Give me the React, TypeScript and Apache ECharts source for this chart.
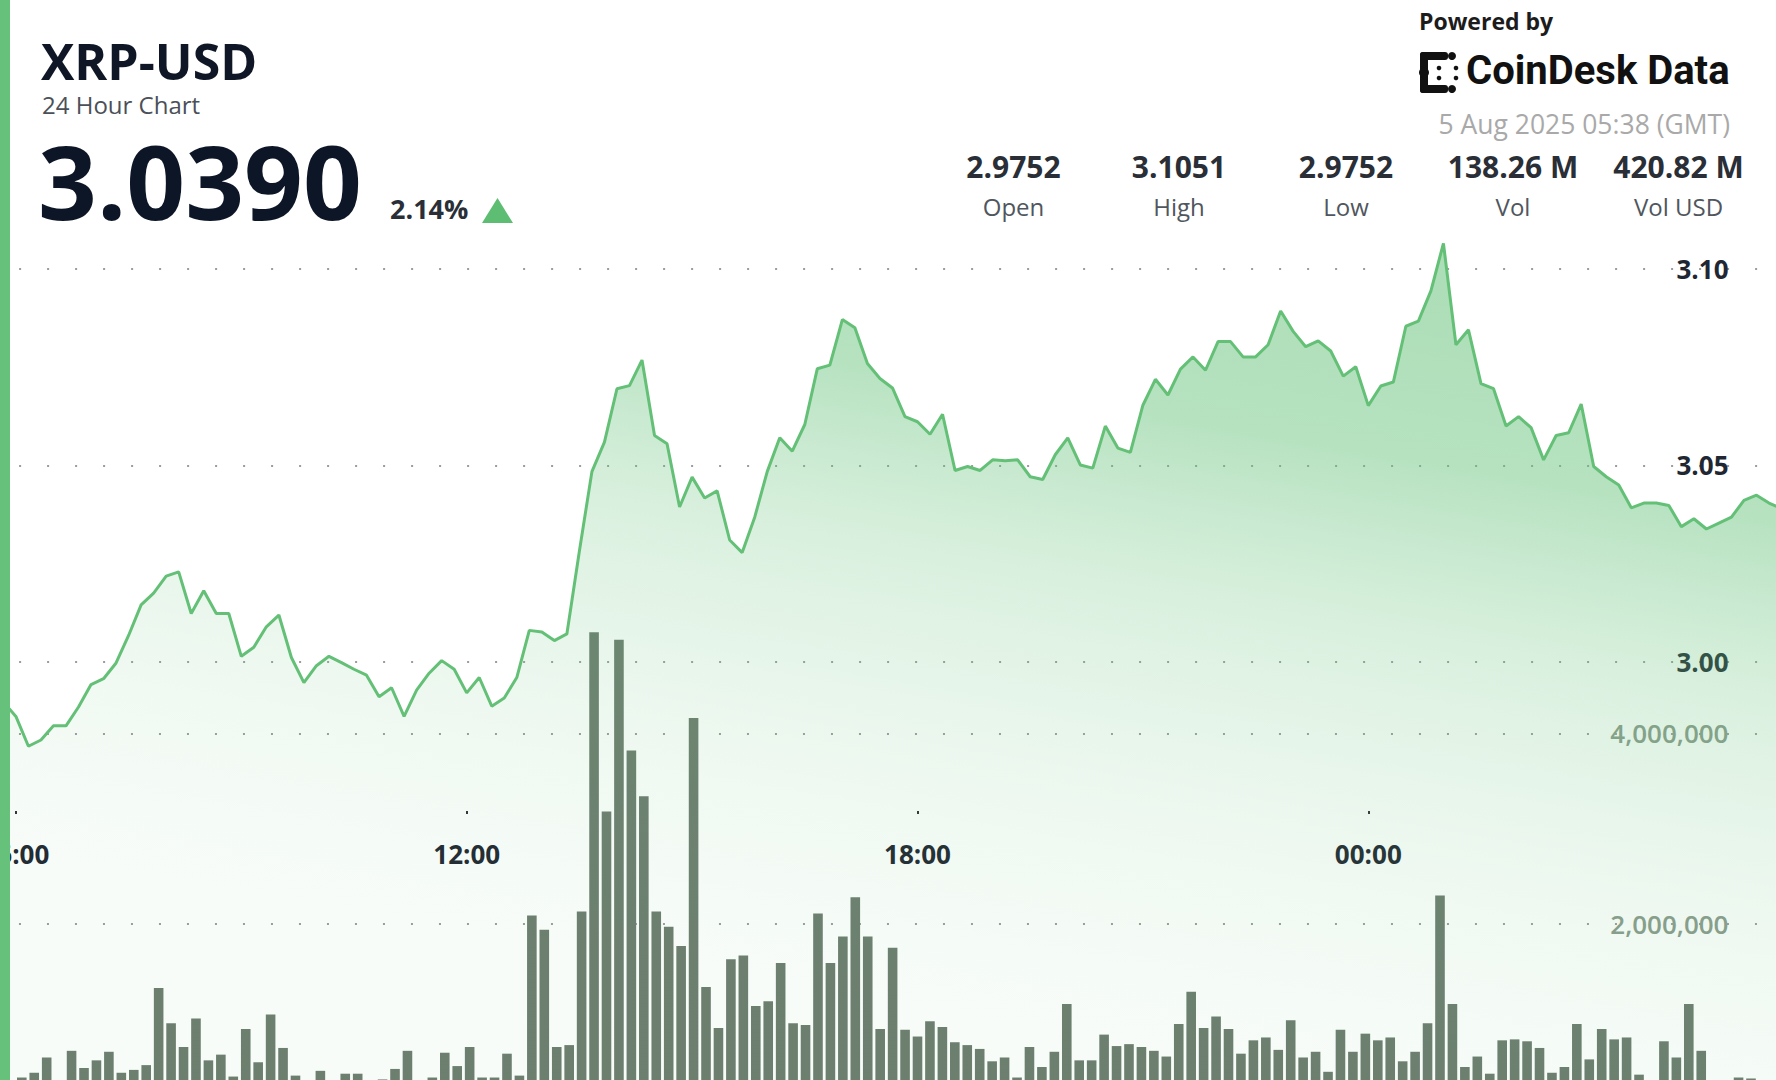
import React, { useEffect, useRef } from "react";
import * as echarts from "echarts";

// ---- data (10-minute samples, first sample at 05:50 on 4 Aug 2025, UTC) ----
const START_MINUTE = 350; // minutes after 00:00 of 4 Aug
const STEP_MINUTES = 10;

const prices = [
  2.9898, 2.9861, 2.9785, 2.9801, 2.9837, 2.9837, 2.9885, 2.9942, 2.9957, 2.9997,
  3.0067, 3.0145, 3.0175, 3.0218, 3.0229, 3.0123, 3.0181, 3.0123, 3.0123, 3.0014,
  3.0037, 3.0089, 3.0119, 3.0011, 2.9947, 2.999, 3.0014, 2.9998, 2.9981, 2.9966,
  2.9911, 2.9934, 2.9861, 2.9928, 2.9971, 3.0003, 2.9981, 2.9921, 2.996, 2.9887,
  2.9908, 2.996, 3.008, 3.0076, 3.0054, 3.0071, 3.0282, 3.0484, 3.0559, 3.0695,
  3.0703, 3.0768, 3.0576, 3.0555, 3.0394, 3.047, 3.0417, 3.0435, 3.031, 3.0278,
  3.0368, 3.0484, 3.057, 3.0536, 3.0604, 3.0746, 3.0755, 3.0871, 3.085, 3.0759,
  3.0721, 3.0697, 3.0624, 3.0611, 3.0579, 3.063, 3.0487, 3.0497, 3.0487, 3.0514,
  3.0512, 3.0514, 3.0471, 3.0464, 3.0527, 3.057, 3.0501, 3.0493, 3.06, 3.0544,
  3.0533, 3.0653, 3.0719, 3.0679, 3.0745, 3.0776, 3.0742, 3.0815, 3.0815, 3.0776,
  3.0776, 3.0807, 3.0893, 3.0841, 3.0802, 3.0817, 3.0791, 3.0727, 3.0751, 3.0652,
  3.0702, 3.0712, 3.0854, 3.0867, 3.0944, 3.1065, 3.0807, 3.0845, 3.0708, 3.0695,
  3.06, 3.0624, 3.0596, 3.0514, 3.0576, 3.0583, 3.0656, 3.0497, 3.0471, 3.045,
  3.0392, 3.0404, 3.0404, 3.0398, 3.0344, 3.0364, 3.0338, 3.0353, 3.0368, 3.0411,
  3.0424, 3.0404, 3.039,
];

// volume per 10-minute bar, millions of XRP
const volumesM = [
  0.35, 0.39, 0.44, 0.6, 0.35, 0.67, 0.49, 0.57, 0.66, 0.44,
  0.47, 0.52, 1.33, 0.96, 0.71, 1.01, 0.57, 0.63, 0.4, 0.9,
  0.55, 1.05, 0.7, 0.41, 0.35, 0.46, 0.3, 0.43, 0.43, 0.3,
  0.37, 0.48, 0.67, 0.3, 0.39, 0.65, 0.51, 0.71, 0.39, 0.39,
  0.64, 0.41, 2.09, 1.94, 0.71, 0.73, 2.13, 5.06, 3.18, 4.98,
  3.82, 3.34, 2.13, 1.97, 1.77, 4.16, 1.34, 0.91, 1.63, 1.67,
  1.14, 1.19, 1.59, 0.96, 0.94, 2.11, 1.59, 1.87, 2.28, 1.87,
  0.9, 1.75, 0.89, 0.82, 0.98, 0.92, 0.76, 0.73, 0.69, 0.56,
  0.6, 0.39, 0.71, 0.5, 0.66, 1.16, 0.57, 0.57, 0.84, 0.72,
  0.74, 0.71, 0.67, 0.61, 0.95, 1.29, 0.91, 1.03, 0.9, 0.64,
  0.78, 0.81, 0.68, 0.99, 0.6, 0.66, 0.45, 0.89, 0.66, 0.85,
  0.78, 0.81, 0.56, 0.66, 0.96, 2.3, 1.16, 0.5, 0.61, 0.43,
  0.78, 0.79, 0.77, 0.7, 0.44, 0.5, 0.95, 0.58, 0.9, 0.79,
  0.81, 0.42, 0.3, 0.77, 0.6, 1.16, 0.67, 0.3, 0.3, 0.39,
  0.38, 0.36, 0.33,
];

const priceTicks = { min: 3.0, max: 3.1, step: 0.05 };
const volumeTicks = { min: 0, max: 4000000, step: 2000000 };
const timeTicks = { min: 0, max: 1800, step: 360 }; // minutes, labels every 6 hours

const headerTexts = {
  symbol: "XRP-USD",
  subtitle: "24 Hour Chart",
  last: "3.0390",
  change: "2.14%",
  powered: "Powered by",
  brand: "CoinDesk Data",
  stamp: "5 Aug 2025 05:38 (GMT)",
};
const statValues = ["2.9752", "3.1051", "2.9752", "138.26 M", "420.82 M"];
const statLabels = ["Open", "High", "Low", "Vol", "Vol USD"];

const GREEN = "#63c076";
const FONT = '"Open Sans", "Noto Sans", sans-serif';

function fmtTime(m: number) {
  const mm = ((Math.round(m) % 1440) + 1440) % 1440;
  const h = Math.floor(mm / 60);
  const mi = mm % 60;
  return String(h).padStart(2, "0") + ":" + String(mi).padStart(2, "0");
}

export default function App() {
  const ref = useRef<HTMLDivElement>(null);

  useEffect(() => {
    if (!ref.current) return;
    const chart = echarts.init(ref.current, undefined, { renderer: "svg" });

    const times = prices.map((_, i) => START_MINUTE + i * STEP_MINUTES);
    const priceData = prices.map((p, i) => [times[i], p]);
    const volData = volumesM.map((v, i) => [times[i], v * 1e6]);

    const dotted = (offset: number) => ({
      color: "#9c9c9c",
      width: 2,
      type: [2, 26] as any,
      dashOffset: offset,
    });

    const statCenters = [1013.5, 1179, 1346, 1513, 1678.5];
    const graphics: any[] = [
      { type: "rect", z: 100, shape: { x: 0, y: 0, width: 10, height: 1080 }, style: { fill: "#66c27a" } },
      { type: "text", z: 100, style: { text: headerTexts.symbol, x: 41, y: 61, font: `bold 50px ${FONT}`, fill: "#0f1727", textAlign: "left", textVerticalAlign: "middle" } },
      { type: "text", z: 100, style: { text: headerTexts.subtitle, x: 42, y: 104, font: `24px ${FONT}`, fill: "#4b5058", textAlign: "left", textVerticalAlign: "middle" } },
      { type: "text", z: 100, style: { text: headerTexts.last, x: 38, y: 180, font: `bold 103px ${FONT}`, fill: "#0d1626", textAlign: "left", textVerticalAlign: "middle" } },
      { type: "text", z: 100, style: { text: headerTexts.change, x: 390, y: 208.5, font: `bold 27px ${FONT}`, fill: "#2a2f37", textAlign: "left", textVerticalAlign: "middle" } },
      { type: "polygon", z: 100, shape: { points: [[482, 223], [513, 223], [497.5, 198]] }, style: { fill: "#5dbd72" } },
      { type: "text", z: 100, style: { text: headerTexts.powered, x: 1419, y: 21, font: `bold 23px ${FONT}`, fill: "#1c1c1c", textAlign: "left", textVerticalAlign: "middle" } },
      // logo mark
      { type: "rect", z: 100, shape: { x: 1420, y: 52, width: 8, height: 41, r: 3 }, style: { fill: "#111" } },
      { type: "rect", z: 100, shape: { x: 1420, y: 52, width: 28, height: 8, r: 3 }, style: { fill: "#111" } },
      { type: "rect", z: 100, shape: { x: 1420, y: 85, width: 28, height: 8, r: 3 }, style: { fill: "#111" } },
      { type: "circle", z: 100, shape: { cx: 1452, cy: 56, r: 4 }, style: { fill: "#111" } },
      { type: "circle", z: 100, shape: { cx: 1452, cy: 89, r: 4 }, style: { fill: "#111" } },
      { type: "circle", z: 100, shape: { cx: 1424, cy: 72.5, r: 5 }, style: { fill: "#111" } },
      { type: "circle", z: 100, shape: { cx: 1439, cy: 68, r: 2.3 }, style: { fill: "#111" } },
      { type: "circle", z: 100, shape: { cx: 1439, cy: 78, r: 2.3 }, style: { fill: "#111" } },
      { type: "circle", z: 100, shape: { cx: 1456, cy: 68, r: 2.3 }, style: { fill: "#111" } },
      { type: "circle", z: 100, shape: { cx: 1456, cy: 78, r: 2.3 }, style: { fill: "#111" } },
      { type: "text", z: 100, style: { text: headerTexts.brand, x: 1466, y: 70, font: `bold 40px Roboto, ${FONT}`, fill: "#111111", textAlign: "left", textVerticalAlign: "middle" } },
      { type: "text", z: 100, style: { text: headerTexts.stamp, x: 1730, y: 124, font: `26.5px ${FONT}`, fill: "#a9a9a9", textAlign: "right", textVerticalAlign: "middle" } },
    ];
    statValues.forEach((v, i) => {
      graphics.push({ type: "text", z: 100, style: { text: v, x: statCenters[i], y: 166, font: `bold 30px ${FONT}`, fill: "#2a2f37", textAlign: "center", textVerticalAlign: "middle" } });
      graphics.push({ type: "text", z: 100, style: { text: statLabels[i], x: statCenters[i], y: 206, font: `24px ${FONT}`, fill: "#50565e", textAlign: "center", textVerticalAlign: "middle" } });
    });

    const noBounds = { outerBoundsMode: "none", containLabel: false };

    chart.setOption({
      animation: false,
      backgroundColor: "#ffffff",
      textStyle: { fontFamily: FONT },
      grid: [
        { ...noBounds, left: -434.9, right: -43.1, top: 268.9, bottom: 1080 - 661.8 },
        { ...noBounds, left: -426.04, right: -37.2, top: 733.3, bottom: 1080 - 1114.7 },
      ],
      xAxis: [
        {
          type: "value",
          gridIndex: 0,
          min: timeTicks.min,
          max: timeTicks.max,
          interval: timeTicks.step,
          position: "bottom",
          offset: 811 - 661.8,
          axisLine: { show: false },
          axisTick: { show: true, length: 3, lineStyle: { color: "#2b2f36", width: 2 } },
          splitLine: { show: false },
          axisLabel: {
            margin: 30,
            fontSize: 26,
            fontWeight: "bold",
            color: "#1e2430",
            fontFamily: FONT,
            showMinLabel: false,
            showMaxLabel: false,
            formatter: (v: number) => fmtTime(v),
          },
        },
        {
          type: "value",
          gridIndex: 1,
          min: timeTicks.min,
          max: timeTicks.max,
          interval: timeTicks.step,
          show: false,
        },
      ],
      yAxis: [
        {
          type: "value",
          gridIndex: 0,
          min: priceTicks.min,
          max: priceTicks.max,
          interval: priceTicks.step,
          position: "right",
          axisLine: { show: false },
          axisTick: { show: false },
          axisLabel: {
            inside: true,
            margin: 90.6,
            fontSize: 26,
            fontWeight: "bold",
            color: "#1f2733",
            fontFamily: FONT,
            formatter: (v: number) => v.toFixed(2),
          },
          splitLine: { show: true, lineStyle: dotted(22.1) },
        },
        {
          type: "value",
          gridIndex: 1,
          min: volumeTicks.min,
          max: volumeTicks.max,
          interval: volumeTicks.step,
          position: "right",
          axisLine: { show: false },
          axisTick: { show: false },
          axisLabel: {
            inside: true,
            margin: 84.7,
            fontSize: 26,
            fontWeight: 600,
            color: "#8b9a8d",
            fontFamily: FONT,
            showMinLabel: false,
            formatter: (v: number) => (v === 0 ? "" : v.toLocaleString("en-US")),
          },
          splitLine: { show: true, lineStyle: dotted(2.96) },
        },
      ],
      series: [
        {
          type: "bar",
          xAxisIndex: 1,
          yAxisIndex: 1,
          data: volData,
          barWidth: 9.6,
          clip: false,
          z: 1,
          itemStyle: { color: "#6d7c6f" },
        },
        {
          type: "line",
          xAxisIndex: 0,
          yAxisIndex: 0,
          data: priceData,
          symbol: "none",
          clip: false,
          z: 2,
          lineStyle: { color: GREEN, width: 3 },
          areaStyle: {
            origin: 2.8,
            color: new echarts.graphic.LinearGradient(
              1450, 200, 1300, 1080,
              [
                { offset: 0, color: "rgba(102,194,122,0.80)" },
                { offset: 0.11, color: "rgba(102,194,122,0.76)" },
                { offset: 0.29, color: "rgba(102,194,122,0.68)" },
                { offset: 0.39, color: "rgba(102,194,122,0.50)" },
                { offset: 0.5, color: "rgba(102,194,122,0.34)" },
                { offset: 0.58, color: "rgba(102,194,122,0.27)" },
                { offset: 0.7, color: "rgba(102,194,122,0.18)" },
                { offset: 0.85, color: "rgba(102,194,122,0.11)" },
                { offset: 1, color: "rgba(102,194,122,0.07)" },
              ],
              true
            ),
          },
        },
      ],
      graphic: graphics,
    });

    return () => chart.dispose();
  }, []);

  return (
    <div
      ref={ref}
      style={{ position: "fixed", left: 0, top: 0, width: 1776, height: 1080, background: "#fff" }}
    />
  );
}
